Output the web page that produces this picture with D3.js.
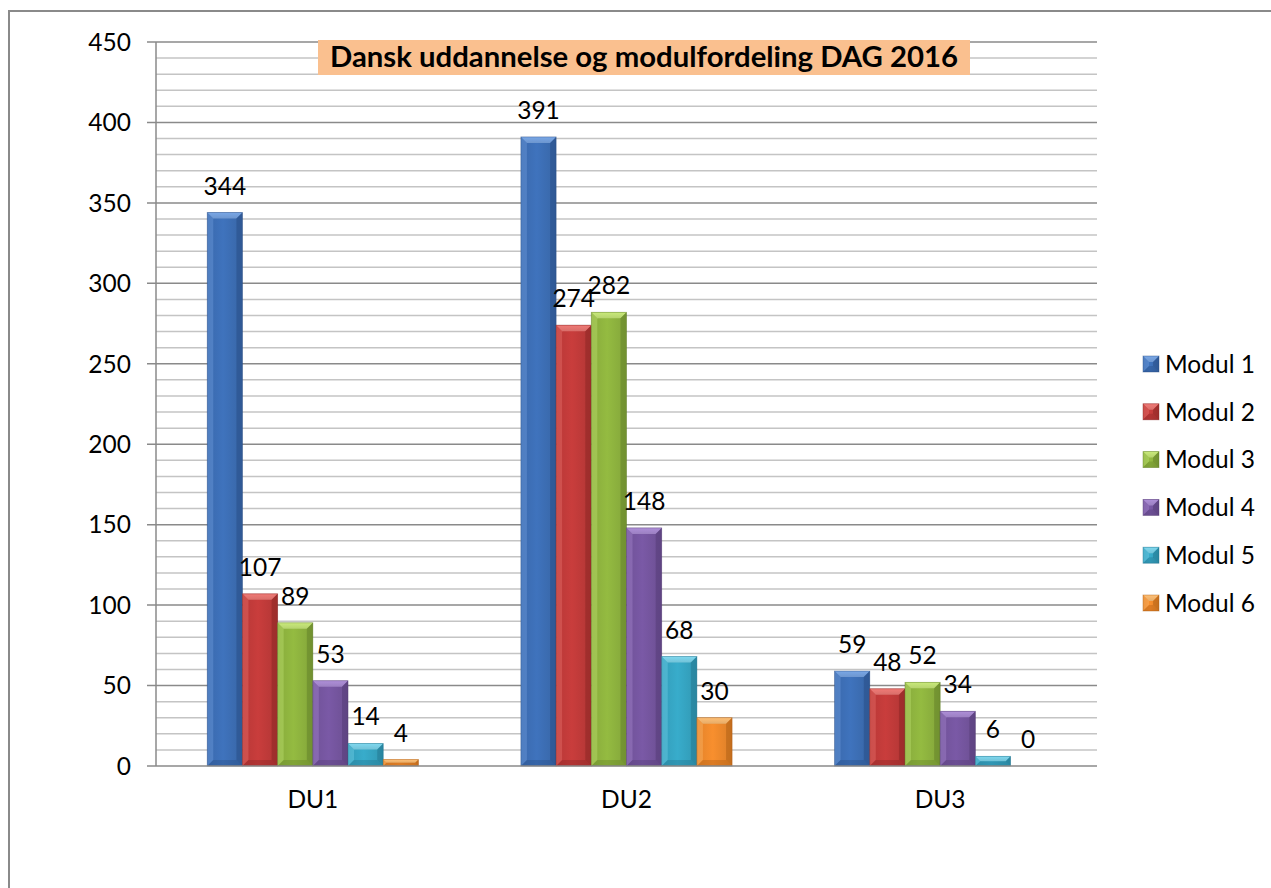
<!DOCTYPE html>
<html lang="da">
<head>
  <meta charset="utf-8">
  <title>Dansk uddannelse og modulfordeling DAG 2016</title>
  <script src="https://d3js.org/d3.v7.min.js"></script>
  <style>
    body { margin: 0; background: #fff; }
    svg text { font-family: Lato, "Open Sans", sans-serif; fill: #000; }
    .grid-minor { stroke: #c4c4c4; stroke-width: 1.5; }
    .grid-major { stroke: #8a8a8a; stroke-width: 1.5; }
    .axis-line { stroke: #8a8a8a; stroke-width: 1.5; }
  </style>
</head>
<body>
  <div id="chart"></div>

  <script>
    // data
    var categories = ["DU1", "DU2", "DU3"];
    var series = ["Modul 1", "Modul 2", "Modul 3", "Modul 4", "Modul 5", "Modul 6"];
    var modul1 = [344, 391, 59];
    var modul2 = [107, 274, 48];
    var modul3 = [89, 282, 52];
    var modul4 = [53, 148, 34];
    var modul5 = [14, 68, 6];
    var modul6 = [4, 30, 0];
    var yTicks = [0, 50, 100, 150, 200, 250, 300, 350, 400, 450];
    var title = "Dansk uddannelse og modulfordeling DAG 2016";

    var values = [modul1, modul2, modul3, modul4, modul5, modul6];
    // base, light, dark for each series
    var colors = [
      ["#3d6fb6", "#79a7e6", "#254a80"],
      ["#c23b3a", "#f07a76", "#842322"],
      ["#8fb43f", "#c9ea7a", "#5e7a25"],
      ["#7656a0", "#ae8fd8", "#4f3870"],
      ["#36a6c4", "#7fd8ef", "#21708a"],
      ["#ef8a2c", "#ffbf75", "#a85a12"]
    ];

    var width = 1271, height = 888;
    var plot = {left: 156, right: 1097, top: 42, bottom: 766};
    var fs = 24.5;

    var svg = d3.select("#chart")
      .append("svg")
        .attr("width", width)
        .attr("height", height);

    var defs = svg.append("defs");
    colors.forEach(function(c, i) {
      var g = defs.append("linearGradient")
        .attr("id", "grad" + i)
        .attr("x1", 0).attr("x2", 1).attr("y1", 0).attr("y2", 0);
      g.append("stop").attr("offset", "0%").attr("stop-color", d3.color(c[0]).darker(0.15));
      g.append("stop").attr("offset", "45%").attr("stop-color", d3.color(c[0]).brighter(0.1));
      g.append("stop").attr("offset", "100%").attr("stop-color", d3.color(c[0]).darker(0.25));
      var t = defs.append("linearGradient")
        .attr("id", "top" + i)
        .attr("x1", 0).attr("x2", 0).attr("y1", 0).attr("y2", 1);
      t.append("stop").attr("offset", "0%").attr("stop-color", c[1]);
      t.append("stop").attr("offset", "100%").attr("stop-color", d3.color(c[1]).darker(0.3));
    });

    // outer chart border
    svg.append("rect")
      .attr("x", 9).attr("y", 11)
      .attr("width", 1400).attr("height", 1000)
      .attr("fill", "none")
      .attr("stroke", "#8a8a8a")
      .attr("stroke-width", 2);

    var x0 = d3.scaleBand()
      .domain(categories)
      .range([plot.left, plot.right])
      .padding(0);

    var x1 = d3.scaleBand()
      .domain(series)
      .range([0, x0.bandwidth()])
      .paddingInner(0)
      .paddingOuter(1.456);

    var y = d3.scaleLinear()
      .domain([0, 450])
      .range([plot.bottom, plot.top]);

    // gridlines: minor every 10, major every 50
    var minor = d3.range(10, 450, 10).filter(function(v) { return v % 50 !== 0; });
    svg.append("g").selectAll("line")
      .data(minor)
      .enter()
      .append("line")
        .attr("class", "grid-minor")
        .attr("x1", plot.left).attr("x2", plot.right)
        .attr("y1", function(d) { return y(d); })
        .attr("y2", function(d) { return y(d); });

    svg.append("g").selectAll("line")
      .data(yTicks.filter(function(v) { return v > 0; }))
      .enter()
      .append("line")
        .attr("class", "grid-major")
        .attr("x1", plot.left - 9).attr("x2", plot.right)
        .attr("y1", function(d) { return y(d); })
        .attr("y2", function(d) { return y(d); });

    // y axis labels
    svg.append("g").selectAll("text")
      .data(yTicks)
      .enter()
      .append("text")
        .attr("x", 131)
        .attr("y", function(d) { return y(d); })
        .attr("dy", "0.36em")
        .attr("text-anchor", "end")
        .attr("font-size", fs)
        .text(function(d) { return d; });

    // x axis labels
    svg.append("g").selectAll("text")
      .data(categories)
      .enter()
      .append("text")
        .attr("x", function(d) { return x0(d) + x0.bandwidth() / 2; })
        .attr("y", 808)
        .attr("text-anchor", "middle")
        .attr("font-size", fs)
        .text(function(d) { return d; });

    // bars
    function bevelBar(g, x, yTop, w, h, i) {
      var b = Math.min(6, h / 2, w / 2);
      var c = colors[i];
      g.append("rect")
        .attr("x", x).attr("y", yTop)
        .attr("width", w).attr("height", h)
        .attr("fill", "url(#grad" + i + ")");
      if (h <= 0) return;
      // top bevel
      g.append("polygon")
        .attr("points", [[x, yTop], [x + w, yTop], [x + w - b, yTop + b], [x + b, yTop + b]].join(" "))
        .attr("fill", "url(#top" + i + ")");
      // left bevel
      g.append("polygon")
        .attr("points", [[x, yTop], [x + b, yTop + b], [x + b, yTop + h - b], [x, yTop + h]].join(" "))
        .attr("fill", c[1]).attr("opacity", 0.35);
      // right bevel
      g.append("polygon")
        .attr("points", [[x + w, yTop], [x + w - b, yTop + b], [x + w - b, yTop + h - b], [x + w, yTop + h]].join(" "))
        .attr("fill", c[2]).attr("opacity", 0.45);
      // bottom bevel
      g.append("polygon")
        .attr("points", [[x, yTop + h], [x + b, yTop + h - b], [x + w - b, yTop + h - b], [x + w, yTop + h]].join(" "))
        .attr("fill", c[2]).attr("opacity", 0.35);
      g.append("rect")
        .attr("x", x).attr("y", yTop)
        .attr("width", w).attr("height", h)
        .attr("fill", "none")
        .attr("stroke", c[2]).attr("stroke-opacity", 0.5).attr("stroke-width", 0.8);
    }

    var barLayer = svg.append("g");
    var labelLayer = svg.append("g");
    categories.forEach(function(cat, ci) {
      series.forEach(function(s, si) {
        var v = values[si][ci];
        var bx = x0(cat) + x1(s);
        var g = barLayer.append("g");
        if (v > 0) bevelBar(g, bx, y(v), x1.bandwidth(), y(0) - y(v), si);
        labelLayer.append("text")
          .attr("x", bx + x1.bandwidth() / 2)
          .attr("y", y(v) - 18)
          .attr("text-anchor", "middle")
          .attr("font-size", fs)
          .text(v);
      });
    });

    // x axis line and left axis
    svg.append("line")
      .attr("class", "axis-line")
      .attr("x1", plot.left - 9).attr("x2", plot.right)
      .attr("y1", y(0)).attr("y2", y(0));
    svg.append("line")
      .attr("class", "axis-line")
      .attr("x1", plot.left).attr("x2", plot.left)
      .attr("y1", y(450)).attr("y2", y(0));

    // title box
    var tg = svg.append("g");
    tg.append("rect")
      .attr("x", 318).attr("y", 40)
      .attr("width", 652).attr("height", 35)
      .attr("fill", "#fac08f");
    tg.append("text")
      .attr("x", 330).attr("y", 67)
      .attr("font-size", 28)
      .attr("font-weight", "bold")
      .attr("textLength", 628)
      .attr("lengthAdjust", "spacingAndGlyphs")
      .text(title);

    // legend
    var legend = svg.append("g");
    series.forEach(function(s, i) {
      var cy = 364 + i * 47.8;
      var lg = legend.append("g");
      bevelBar(lg, 1143, cy - 8, 16, 16, i);
      lg.append("text")
        .attr("x", 1165)
        .attr("y", cy)
        .attr("dy", "0.36em")
        .attr("font-size", fs)
        .text(s);
    });
  </script>
</body>
</html>
